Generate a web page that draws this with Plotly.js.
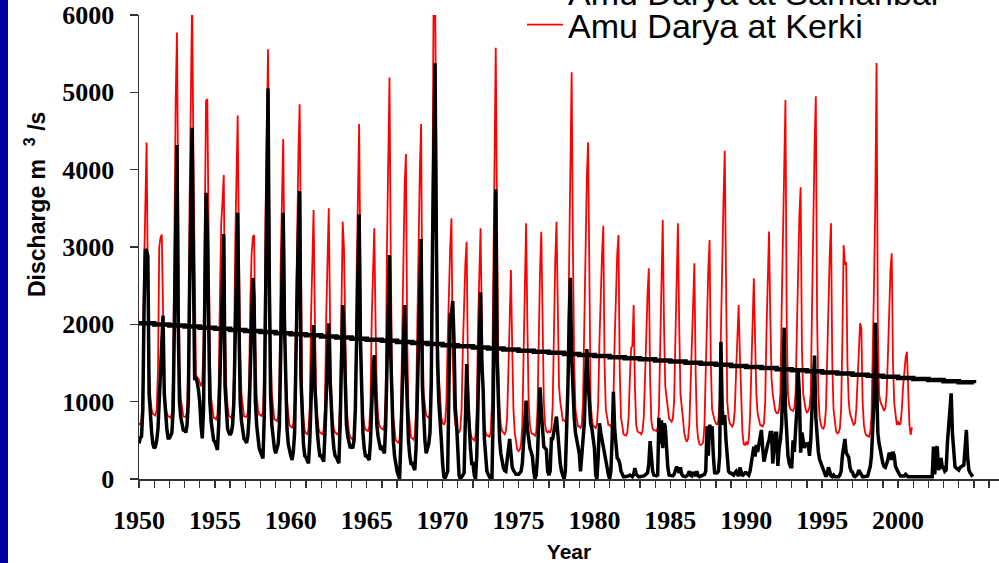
<!DOCTYPE html>
<html>
<head>
<meta charset="utf-8">
<script src="https://cdn.plot.ly/plotly-3.0.1.min.js"></script>
<style>
  html, body { margin: 0; padding: 0; background: #ffffff; }
  #chart { width: 999px; height: 563px; }
</style>
</head>
<body>
<div id="chart"></div>
<script>
// Monthly mean discharge (m3/s), January to December, one row per year from 1950.
const startYear = 1950;

// Amu Darya at Kerki, 1950-2000
const kerki = [
  720, 700, 770, 1150, 2700, 3700, 4350, 2500, 1400, 1050, 900, 840,      // 1950
  830, 820, 900, 1400, 3000, 3120, 3160, 1900, 1200, 950, 850, 810,       // 1951
  806, 790, 850, 1400, 3300, 4900, 5775, 3300, 1500, 1050, 880, 810,      // 1952
  806, 800, 870, 1500, 3600, 5400, 6250, 4200, 2200, 1350, 1310, 1300,    // 1953
  1250, 1200, 1260, 1700, 3300, 4890, 4915, 3000, 1600, 1050, 880, 790,   // 1954
  785, 770, 830, 1200, 2400, 3300, 3590, 3930, 2000, 1200, 950, 820,      // 1955
  806, 790, 850, 1300, 3000, 4100, 4700, 3000, 1600, 1100, 900, 810,      // 1956
  806, 800, 860, 1250, 2300, 2900, 3130, 3155, 1700, 1100, 900, 830,      // 1957
  828, 810, 870, 1400, 3400, 4800, 5556, 3400, 1700, 1100, 880, 770,      // 1958
  763, 750, 800, 1200, 2800, 3900, 4396, 2700, 1400, 1000, 800, 690,      // 1959
  677, 660, 720, 1000, 2000, 3300, 4200, 4845, 2200, 1100, 800, 620,      // 1960
  591, 580, 640, 950, 2100, 3000, 3478, 2100, 1100, 800, 650, 600,        // 1961
  591, 580, 640, 950, 2100, 3000, 3500, 2100, 1100, 800, 650, 600,        // 1962
  591, 570, 620, 1000, 2300, 3330, 3000, 1800, 1000, 750, 600, 540,       // 1963
  526, 510, 560, 900, 2600, 3900, 4590, 2700, 1300, 850, 700, 640,        // 1964
  634, 620, 680, 1000, 2100, 2900, 3241, 2000, 1100, 800, 700, 660,       // 1965
  655, 640, 700, 1100, 3000, 4500, 5193, 2900, 1300, 800, 600, 500,       // 1966
  483, 470, 520, 800, 1800, 3000, 3800, 4202, 1800, 900, 650, 540,        // 1967
  526, 510, 560, 900, 2000, 3200, 4000, 4590, 2000, 1100, 900, 820,       // 1968
  806, 790, 850, 1500, 3800, 6600, 6400, 3600, 2000, 1340, 1100, 800,     // 1969
  724, 700, 740, 1000, 1800, 2600, 3000, 3371, 1600, 900, 700, 640,       // 1970
  620, 600, 650, 900, 1700, 2400, 2800, 3068, 1400, 800, 600, 530,        // 1971
  520, 500, 560, 900, 2000, 2800, 3241, 2000, 1000, 700, 600, 560,        // 1972
  560, 540, 600, 1000, 2500, 4200, 5577, 3400, 1500, 900, 700, 620,       // 1973
  600, 580, 620, 800, 1400, 2200, 2702, 1700, 900, 600, 450, 380,         // 1974
  360, 380, 450, 700, 1600, 2700, 3306, 2000, 1000, 700, 600, 580,        // 1975
  580, 560, 600, 900, 1900, 2700, 3198, 1900, 1000, 700, 620, 600,        // 1976
  620, 600, 650, 950, 2000, 2800, 3327, 2100, 1200, 1000, 850, 760,       // 1977
  760, 740, 780, 1200, 2800, 4300, 5259, 3000, 1500, 900, 760, 680,       // 1978
  680, 660, 700, 1000, 2000, 3200, 3900, 4353, 2000, 1000, 780, 680,      // 1979
  680, 660, 700, 1000, 1800, 2500, 2900, 3275, 1500, 900, 760, 700,       // 1980
  700, 680, 720, 1000, 1800, 2500, 2900, 3155, 1400, 800, 650, 580,       // 1981
  570, 560, 600, 800, 1300, 1690, 1720, 2250, 1200, 700, 620, 600,        // 1982
  600, 580, 620, 800, 1300, 1900, 2400, 2724, 1300, 750, 650, 630,        // 1983
  630, 620, 660, 900, 1800, 2700, 3349, 2000, 1200, 1060, 900, 780,       // 1984
  760, 740, 780, 1000, 1800, 2700, 3306, 2000, 1100, 940, 700, 600,       // 1985
  520, 483, 520, 700, 1200, 1800, 2300, 2789, 1400, 700, 520, 450,        // 1986
  440, 450, 480, 700, 1400, 2200, 2700, 3090, 1500, 900, 800, 760,        // 1987
  720, 700, 760, 1000, 1900, 2900, 3600, 4245, 2000, 1000, 800, 720,      // 1988
  700, 680, 720, 900, 1400, 1900, 2250, 1600, 900, 600, 450, 440,         // 1989
  480, 440, 520, 800, 1400, 2100, 2595, 1800, 1100, 850, 750, 700,        // 1990
  690, 680, 720, 1000, 1900, 2700, 3200, 2100, 1300, 1086, 950, 880,      // 1991
  853, 850, 900, 1100, 2200, 3300, 4200, 4900, 2000, 1100, 950, 900,      // 1992
  890, 880, 920, 1100, 1900, 2700, 3400, 3772, 1700, 1100, 960, 900,      // 1993
  860, 880, 930, 1100, 2200, 3400, 4300, 4950, 2100, 1100, 800, 700,      // 1994
  660, 650, 700, 900, 1600, 2400, 2900, 3306, 1500, 900, 750, 620,        // 1995
  590, 600, 650, 900, 1800, 3026, 2780, 2789, 1500, 1000, 850, 780,       // 1996
  740, 700, 720, 900, 1300, 1700, 2013, 1948, 1000, 700, 600, 560,        // 1997
  560, 540, 600, 800, 1500, 2500, 3570, 5380, 2000, 1100, 1000, 950,      // 1998
  900, 880, 920, 1100, 1600, 2200, 2700, 2918, 1500, 980, 850, 700,       // 1999
  750, 700, 720, 900, 1200, 1400, 1568, 1646, 1000, 700, 570, 668         // 2000
];

// Amu Darya at Samanbai, 1950-2004
const samanbai = [
  460, 530, 550, 900, 2200, 2970, 2950, 2880, 1100, 800, 600, 450,        // 1950
  397, 420, 500, 650, 1000, 1500, 1900, 2114, 1100, 800, 650, 530,        // 1951
  530, 560, 600, 900, 2200, 3500, 4319, 2000, 1000, 800, 680, 634,        // 1952
  634, 600, 700, 1000, 2500, 3800, 4543, 2700, 1300, 1300, 1250, 1150,    // 1953
  1000, 700, 526, 900, 2000, 3702, 3200, 1700, 1000, 750, 600, 500,       // 1954
  480, 420, 375, 700, 1400, 2200, 2700, 3166, 1200, 800, 650, 600,        // 1955
  569, 600, 700, 1000, 1800, 2800, 3444, 2000, 1000, 750, 600, 520,       // 1956
  500, 465, 550, 800, 1400, 2000, 2600, 2300, 1000, 700, 500, 400,        // 1957
  350, 300, 267, 800, 2600, 4000, 5051, 2600, 1100, 700, 500, 400,        // 1958
  332, 380, 450, 700, 1500, 2600, 3444, 2000, 1000, 650, 450, 350,        // 1959
  300, 246, 350, 600, 1300, 2400, 3200, 3724, 1300, 700, 450, 300,        // 1960
  280, 240, 203, 500, 1000, 1500, 1991, 1200, 800, 600, 420, 300,         // 1961
  300, 260, 224, 600, 1100, 1700, 2013, 1300, 800, 600, 400, 300,         // 1962
  280, 240, 203, 700, 1500, 2250, 1900, 1100, 700, 550, 450, 400,         // 1963
  420, 397, 500, 900, 1800, 2800, 3422, 1800, 900, 600, 400, 300,         // 1964
  300, 260, 246, 500, 1000, 1400, 1603, 1000, 700, 550, 450, 380,         // 1965
  400, 350, 332, 700, 1500, 2300, 2896, 1600, 800, 500, 300, 150,         // 1966
  100, 50, 0, 500, 1200, 1800, 2250, 1500, 800, 500, 300, 200,            // 1967
  200, 150, 116, 400, 1000, 1800, 2500, 3103, 1200, 700, 500, 332,        // 1968
  400, 450, 600, 1200, 3000, 4500, 5375, 3200, 1500, 1000, 800, 500,      // 1969
  200, 30, 10, 50, 100, 1200, 2120, 2150, 2302, 1797, 930, 720,           // 1970
  414, 50, 0, 20, 50, 80, 800, 1487, 1000, 650, 400, 200,                 // 1971
  200, 50, 0, 300, 1000, 1800, 2414, 1500, 1170, 520, 330, 100,           // 1972
  60, 30, 0, 10, 900, 2500, 3745, 1600, 1000, 520, 330, 200,              // 1973
  150, 110, 100, 246, 400, 517, 330, 150, 110, 80, 60, 60,                // 1974
  60, 80, 100, 200, 500, 800, 1013, 650, 500, 400, 350, 290,              // 1975
  100, 0, 50, 300, 780, 1185, 890, 560, 420, 400, 380, 100,               // 1976
  50, 100, 520, 520, 600, 700, 806, 600, 330, 200, 100, 30,               // 1977
  0, 100, 500, 1170, 2000, 2603, 1581, 1064, 800, 600, 520, 400,          // 1978
  330, 100, 330, 600, 720, 1280, 1681, 1280, 900, 720, 650, 500,          // 1979
  400, 50, 0, 300, 720, 600, 500, 400, 330, 246, 100, 60,                 // 1980
  0, 100, 520, 1129, 650, 400, 270, 250, 200, 100, 50, 30,                // 1981
  30, 30, 30, 40, 50, 40, 30, 60, 140, 60, 40, 30,                        // 1982
  30, 30, 30, 40, 50, 60, 80, 200, 491, 300, 100, 50,                     // 1983
  40, 40, 50, 790, 450, 760, 400, 720, 676, 333, 150, 50,                 // 1984
  50, 40, 40, 60, 100, 160, 120, 80, 150, 60, 40, 30,                     // 1985
  30, 40, 60, 100, 50, 40, 90, 60, 40, 100, 40, 30,                       // 1986
  40, 40, 50, 60, 100, 680, 300, 700, 650, 680, 300, 80,                  // 1987
  77, 80, 100, 300, 1776, 900, 700, 828, 500, 200, 100, 80,               // 1988
  77, 60, 50, 80, 100, 60, 40, 150, 80, 40, 60, 80,                       // 1989
  80, 60, 50, 100, 200, 300, 418, 290, 440, 350, 430, 500,                // 1990
  634, 400, 224, 300, 400, 450, 500, 600, 600, 200, 400, 590,             // 1991
  590, 170, 400, 500, 700, 1200, 1957, 900, 504, 300, 200, 160,           // 1992
  160, 500, 350, 570, 900, 1418, 1100, 340, 600, 500, 400, 450,           // 1993
  450, 460, 300, 500, 900, 1300, 1595, 800, 500, 350, 250, 200,           // 1994
  160, 100, 50, 30, 60, 150, 100, 40, 30, 50, 30, 30,                     // 1995
  30, 30, 50, 100, 300, 418, 517, 340, 300, 280, 150, 100,                // 1996
  90, 40, 30, 40, 60, 116, 80, 40, 30, 30, 30, 40,                        // 1997
  40, 100, 160, 300, 600, 1022, 2021, 1022, 600, 460, 350, 280,           // 1998
  200, 160, 150, 200, 250, 340, 300, 250, 353, 300, 160, 120,             // 1999
  90, 60, 40, 40, 30, 40, 60, 40, 30, 30, 30, 30,                         // 2000
  30, 30, 30, 30, 30, 30, 30, 30, 30, 30, 30, 30,                         // 2001
  30, 30, 30, 30, 418, 60, 400, 418, 116, 200, 272, 150,                  // 2002
  150, 100, 116, 460, 700, 900, 1108, 590, 300, 160, 140, 120,            // 2003
  116, 150, 160, 170, 180, 400, 634, 280, 116, 80, 60, 30                 // 2004
];

// Linear trend of the Samanbai record, one value per year from 1950 to 2005
const trendValues = [
  2013, 1999, 1985, 1971, 1957, 1942, 1928, 1914, 1900, 1886,
  1872, 1858, 1843, 1829, 1815, 1801, 1787, 1773, 1759, 1745,
  1730, 1716, 1702, 1688, 1674, 1660, 1646, 1632, 1617, 1603,
  1589, 1575, 1561, 1547, 1533, 1519, 1504, 1490, 1476, 1462,
  1448, 1434, 1420, 1406, 1392, 1377, 1363, 1349, 1335, 1321,
  1307, 1293, 1279, 1265, 1251, 1237
];

// Year axis: a tick every year, labels every five years
const firstTickYear = 1950;
const lastTickYear = 2006;
const labelYears = [1950, 1955, 1960, 1965, 1970, 1975, 1980, 1985, 1990, 1995, 2000];
const yTicks = [0, 1000, 2000, 3000, 4000, 5000, 6000];

const monthlyX = values => values.map((_, i) => startYear + i / 12);
const yearlyX = values => values.map((_, i) => startYear + i);

const tickvals = [];
const ticktext = [];
for (let y = firstTickYear; y <= lastTickYear; y++) {
  tickvals.push(y);
  ticktext.push(labelYears.includes(y) ? String(y) : '');
}

const axisColor = '#333333';
const tickFont = { family: 'Liberation Serif, Times New Roman, serif', size: 26, color: '#000000', weight: 'bold' };
const xTitleFont = { family: 'Liberation Sans, Arial, sans-serif', size: 21, color: '#000000', weight: 'bold' };
const yTitleFont = { family: 'Liberation Sans, Arial, sans-serif', size: 23, color: '#000000', weight: 'bold' };
const legendFont = { family: 'Liberation Sans, Arial, sans-serif', size: 34, color: '#000000' };

const traces = [
  {
    type: 'scatter', mode: 'lines', name: 'Amu Darya at Kerki',
    x: monthlyX(kerki), y: kerki,
    line: { color: '#ff0000', width: 1.8 },
    legend: 'legend2'
  },
  {
    type: 'scatter', mode: 'lines', name: 'Amu Darya at Samanbai',
    x: monthlyX(samanbai), y: samanbai,
    line: { color: '#000000', width: 3.5 },
    legend: 'legend'
  },
  {
    type: 'scatter', mode: 'lines', name: 'Trend',
    x: yearlyX(trendValues), y: trendValues,
    line: { color: '#000000', width: 4.5, shape: 'hv' },
    showlegend: false
  }
];

// Plot area: 139..999 px horizontally, 15..479 px vertically
const plotW = 860, plotH = 464, marginL = 139, marginT = 15;
const px2paperX = px => (px - marginL) / plotW;
const px2paperY = py => (marginT + plotH - py) / plotH;

const layout = {
  width: 999,
  height: 563,
  margin: { l: marginL, r: 0, t: marginT, b: 84, pad: 0, autoexpand: false },
  paper_bgcolor: '#ffffff',
  plot_bgcolor: '#ffffff',
  showlegend: true,
  legend: {
    x: px2paperX(522), xanchor: 'left',
    y: px2paperY(-8), yanchor: 'middle',
    itemwidth: 36,
    bgcolor: 'rgba(0,0,0,0)', borderwidth: 0,
    font: legendFont
  },
  legend2: {
    x: px2paperX(522), xanchor: 'left',
    y: px2paperY(25), yanchor: 'middle',
    itemwidth: 36,
    bgcolor: 'rgba(0,0,0,0)', borderwidth: 0,
    font: legendFont
  },
  xaxis: {
    range: [1950, 2006.65],
    tickmode: 'array', tickvals: tickvals, ticktext: ticktext,
    ticks: 'outside', ticklen: 7, tickwidth: 1.3, tickcolor: axisColor,
    showline: true, linecolor: axisColor, linewidth: 1.5,
    showgrid: false, zeroline: false,
    tickfont: tickFont,
    ticklabelstandoff: 10,
    title: { text: 'Year', font: xTitleFont, standoff: 14 }
  },
  yaxis: {
    range: [0, 6000],
    tickmode: 'array', tickvals: yTicks,
    ticks: 'outside', ticklen: 8, tickwidth: 1.3, tickcolor: axisColor,
    showline: true, linecolor: axisColor, linewidth: 1.5,
    showgrid: false, zeroline: false,
    tickfont: tickFont,
    ticklabelstandoff: 10
  },
  annotations: [
    {
      text: 'Discharge m\u00a0\u00a0<sup>3</sup>\u00a0/s',
      xref: 'paper', yref: 'paper',
      x: px2paperX(35), y: px2paperY(205),
      xanchor: 'center', yanchor: 'middle',
      textangle: -90, showarrow: false,
      font: yTitleFont
    }
  ],
  shapes: [
    {
      type: 'rect', xref: 'paper', yref: 'paper', layer: 'above',
      x0: px2paperX(0), x1: px2paperX(8),
      y0: px2paperY(600), y1: px2paperY(-40),
      fillcolor: '#00009c', line: { width: 0 }
    }
  ]
};

Plotly.newPlot('chart', traces, layout, { displayModeBar: false, staticPlot: true });
</script>
</body>
</html>
